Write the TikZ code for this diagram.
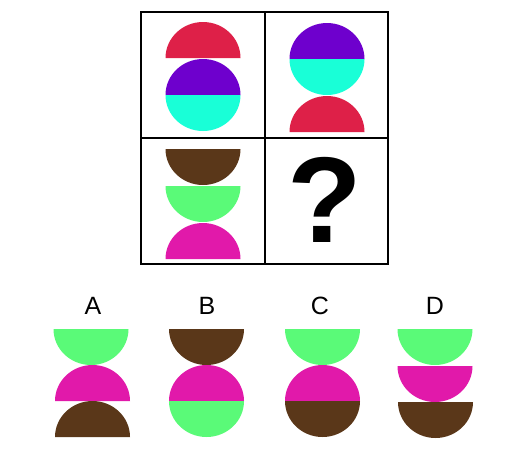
\documentclass[tikz,border=0pt]{standalone}
\usepackage{fontspec}
\setmainfont{Liberation Sans}
\definecolor{domered}{RGB}{222,32,72}
\definecolor{domepurple}{RGB}{110,0,205}
\definecolor{domecyan}{RGB}{25,255,215}
\definecolor{domebrown}{RGB}{90,55,25}
\definecolor{domegreen}{RGB}{90,250,120}
\definecolor{domepink}{RGB}{225,25,170}

\begin{document}
\begin{tikzpicture}[
  x=1pt, y=-1pt,
  grid/.style = {draw=black, line width=1.5pt},
  letter/.style = {font=\fontsize{25}{25}\selectfont, inner sep=0pt},
  ask/.style = {font=\fontsize{122}{122}\selectfont\bfseries, inner sep=0pt},
  % dome = flat side below, bowl = flat side above
  dome/.style = {start angle=180, end angle=360, x radius=37.5, y radius=36},
  bowl/.style = {start angle=180, end angle=0, x radius=37.5, y radius=36}
]
\useasboundingbox (0,0) rectangle (525,448);

% the square of four cells
\draw[grid] (141,12) rectangle (388,264);
\draw[grid] (265,12) -- (265,264);
\draw[grid] (141,138) -- (388,138);

% cell 1
\fill[domered] (165.5,58) arc[dome] -- cycle;
\fill[domepurple] (165.5,95) arc[dome] -- cycle;
\fill[domecyan] (165.5,95) arc[bowl] -- cycle;

% cell 2
\fill[domepurple] (289.5,59) arc[dome] -- cycle;
\fill[domecyan] (289.5,59) arc[bowl] -- cycle;
\fill[domered] (289.5,132) arc[dome] -- cycle;

% cell 3
\fill[domebrown] (165.5,149) arc[bowl] -- cycle;
\fill[domegreen] (165.5,186) arc[bowl] -- cycle;
\fill[domepink] (165.5,259) arc[dome] -- cycle;

% cell 4
\node[ask] (ask) at (325,200) {?};

% answers
\node[letter] (labA) at (93,306) {A};
\node[letter] (labB) at (207,306) {B};
\node[letter] (labC) at (320,306) {C};
\node[letter] (labD) at (435,306) {D};

% A
\fill[domegreen] (53.5,329) arc[bowl] -- cycle;
\fill[domepink] (55,401) arc[dome] -- cycle;
\fill[domebrown] (55,437) arc[dome] -- cycle;

% B
\fill[domebrown] (169,329) arc[bowl] -- cycle;
\fill[domepink] (169,401) arc[dome] -- cycle;
\fill[domegreen] (169,401) arc[bowl] -- cycle;

% C
\fill[domegreen] (285,329) arc[bowl] -- cycle;
\fill[domepink] (285,401) arc[dome] -- cycle;
\fill[domebrown] (285,401) arc[bowl] -- cycle;

% D
\fill[domegreen] (397.5,329) arc[bowl] -- cycle;
\fill[domepink] (397.5,366) arc[bowl] -- cycle;
\fill[domebrown] (398,402) arc[bowl] -- cycle;
\end{tikzpicture}
\end{document}
